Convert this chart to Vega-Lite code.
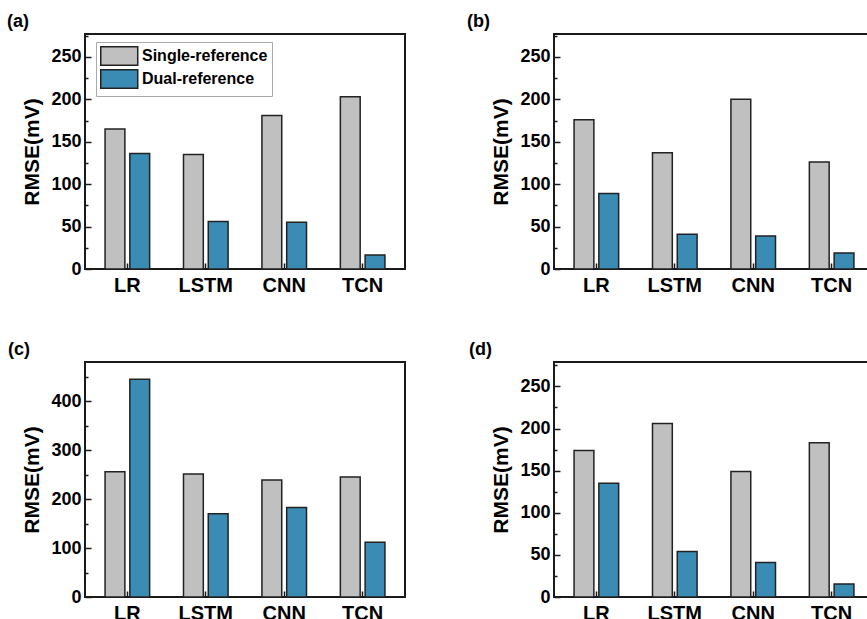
{
  "$schema": "https://vega.github.io/schema/vega-lite/v6.json",
  "background": "white",
  "padding": {"left": 6, "top": 12, "right": 5, "bottom": 5},
  "data": {"values": [
    {"panel": "a", "model": "LR", "method": "Single-reference", "rmse": 165},
    {"panel": "a", "model": "LR", "method": "Dual-reference", "rmse": 136},
    {"panel": "a", "model": "LSTM", "method": "Single-reference", "rmse": 135},
    {"panel": "a", "model": "LSTM", "method": "Dual-reference", "rmse": 56},
    {"panel": "a", "model": "CNN", "method": "Single-reference", "rmse": 181},
    {"panel": "a", "model": "CNN", "method": "Dual-reference", "rmse": 55},
    {"panel": "a", "model": "TCN", "method": "Single-reference", "rmse": 203},
    {"panel": "a", "model": "TCN", "method": "Dual-reference", "rmse": 16.5},
    {"panel": "b", "model": "LR", "method": "Single-reference", "rmse": 176},
    {"panel": "b", "model": "LR", "method": "Dual-reference", "rmse": 89},
    {"panel": "b", "model": "LSTM", "method": "Single-reference", "rmse": 137},
    {"panel": "b", "model": "LSTM", "method": "Dual-reference", "rmse": 41},
    {"panel": "b", "model": "CNN", "method": "Single-reference", "rmse": 200},
    {"panel": "b", "model": "CNN", "method": "Dual-reference", "rmse": 39},
    {"panel": "b", "model": "TCN", "method": "Single-reference", "rmse": 126},
    {"panel": "b", "model": "TCN", "method": "Dual-reference", "rmse": 19},
    {"panel": "c", "model": "LR", "method": "Single-reference", "rmse": 256},
    {"panel": "c", "model": "LR", "method": "Dual-reference", "rmse": 445},
    {"panel": "c", "model": "LSTM", "method": "Single-reference", "rmse": 251},
    {"panel": "c", "model": "LSTM", "method": "Dual-reference", "rmse": 170},
    {"panel": "c", "model": "CNN", "method": "Single-reference", "rmse": 239},
    {"panel": "c", "model": "CNN", "method": "Dual-reference", "rmse": 183},
    {"panel": "c", "model": "TCN", "method": "Single-reference", "rmse": 245},
    {"panel": "c", "model": "TCN", "method": "Dual-reference", "rmse": 112},
    {"panel": "d", "model": "LR", "method": "Single-reference", "rmse": 174},
    {"panel": "d", "model": "LR", "method": "Dual-reference", "rmse": 135},
    {"panel": "d", "model": "LSTM", "method": "Single-reference", "rmse": 206},
    {"panel": "d", "model": "LSTM", "method": "Dual-reference", "rmse": 54},
    {"panel": "d", "model": "CNN", "method": "Single-reference", "rmse": 149},
    {"panel": "d", "model": "CNN", "method": "Dual-reference", "rmse": 41},
    {"panel": "d", "model": "TCN", "method": "Single-reference", "rmse": 183},
    {"panel": "d", "model": "TCN", "method": "Dual-reference", "rmse": 15.5}
  ]},
  "columns": 2,
  "spacing": {"row": 44, "column": 60},
  "concat": [
    {
      "width": 320, "height": 235,
      "title": {"text": "(a)", "dx": -78},
      "transform": [{"filter": "datum.panel === 'a'"}],
      "mark": {"type": "bar", "stroke": "#222", "strokeWidth": 1.5},
      "encoding": {
        "x": {"field": "model", "type": "nominal", "sort": ["LR", "LSTM", "CNN", "TCN"], "scale": {"paddingInner": 0.4, "paddingOuter": 0.24}},
        "xOffset": {"field": "method", "type": "nominal", "sort": ["Single-reference", "Dual-reference"], "scale": {"paddingInner": 0.2, "paddingOuter": 0.05}},
        "y": {"field": "rmse", "type": "quantitative", "scale": {"domain": [0, 277], "nice": false},
              "axis": {"title": "RMSE(mV)", "values": [0, 25, 50, 75, 100, 125, 150, 175, 200, 225, 250, 275], "labelExpr": "datum.value % 50 === 0 && datum.value < 270 ? datum.label : ''", "tickSize": {"condition": {"test": "datum.value % 50 === 0", "value": -6}, "value": -3}}},
        "color": {"field": "method", "type": "nominal", "scale": {"domain": ["Single-reference", "Dual-reference"], "range": ["#c0c0c0", "#3a8cb5"]}, "legend": {"legendX": 11, "legendY": 8}}
      }
    },
    {
      "width": 320, "height": 235,
      "title": {"text": "(b)", "dx": -87},
      "transform": [{"filter": "datum.panel === 'b'"}],
      "mark": {"type": "bar", "stroke": "#222", "strokeWidth": 1.5},
      "encoding": {
        "x": {"field": "model", "type": "nominal", "sort": ["LR", "LSTM", "CNN", "TCN"], "scale": {"paddingInner": 0.4, "paddingOuter": 0.24}},
        "xOffset": {"field": "method", "type": "nominal", "sort": ["Single-reference", "Dual-reference"], "scale": {"paddingInner": 0.2, "paddingOuter": 0.05}},
        "y": {"field": "rmse", "type": "quantitative", "scale": {"domain": [0, 277], "nice": false},
              "axis": {"title": "RMSE(mV)", "values": [0, 25, 50, 75, 100, 125, 150, 175, 200, 225, 250, 275], "labelExpr": "datum.value % 50 === 0 && datum.value < 270 ? datum.label : ''", "tickSize": {"condition": {"test": "datum.value % 50 === 0", "value": -6}, "value": -3}}},
        "color": {"field": "method", "type": "nominal", "scale": {"domain": ["Single-reference", "Dual-reference"], "range": ["#c0c0c0", "#3a8cb5"]}, "legend": {"legendX": 11, "legendY": 8}}
      }
    },
    {
      "width": 320, "height": 235,
      "title": {"text": "(c)", "dx": -77},
      "transform": [{"filter": "datum.panel === 'c'"}],
      "mark": {"type": "bar", "stroke": "#222", "strokeWidth": 1.5},
      "encoding": {
        "x": {"field": "model", "type": "nominal", "sort": ["LR", "LSTM", "CNN", "TCN"], "scale": {"paddingInner": 0.4, "paddingOuter": 0.24}},
        "xOffset": {"field": "method", "type": "nominal", "sort": ["Single-reference", "Dual-reference"], "scale": {"paddingInner": 0.2, "paddingOuter": 0.05}},
        "y": {"field": "rmse", "type": "quantitative", "scale": {"domain": [0, 480], "nice": false},
              "axis": {"title": "RMSE(mV)", "values": [0, 50, 100, 150, 200, 250, 300, 350, 400, 450], "labelExpr": "datum.value % 100 === 0 ? datum.label : ''", "tickSize": {"condition": {"test": "datum.value % 100 === 0", "value": -6}, "value": -3}}},
        "color": {"field": "method", "type": "nominal", "scale": {"domain": ["Single-reference", "Dual-reference"], "range": ["#c0c0c0", "#3a8cb5"]}, "legend": {"legendX": 132, "legendY": 8}}
      }
    },
    {
      "width": 320, "height": 235,
      "title": {"text": "(d)", "dx": -85},
      "transform": [{"filter": "datum.panel === 'd'"}],
      "mark": {"type": "bar", "stroke": "#222", "strokeWidth": 1.5},
      "encoding": {
        "x": {"field": "model", "type": "nominal", "sort": ["LR", "LSTM", "CNN", "TCN"], "scale": {"paddingInner": 0.4, "paddingOuter": 0.24}},
        "xOffset": {"field": "method", "type": "nominal", "sort": ["Single-reference", "Dual-reference"], "scale": {"paddingInner": 0.2, "paddingOuter": 0.05}},
        "y": {"field": "rmse", "type": "quantitative", "scale": {"domain": [0, 279], "nice": false},
              "axis": {"title": "RMSE(mV)", "values": [0, 25, 50, 75, 100, 125, 150, 175, 200, 225, 250, 275], "labelExpr": "datum.value % 50 === 0 && datum.value < 270 ? datum.label : ''", "tickSize": {"condition": {"test": "datum.value % 50 === 0", "value": -6}, "value": -3}}},
        "color": {"field": "method", "type": "nominal", "scale": {"domain": ["Single-reference", "Dual-reference"], "range": ["#c0c0c0", "#3a8cb5"]}, "legend": {"legendX": 133, "legendY": 8}}
      }
    }
  ],
  "config": {
    "font": "Liberation Sans",
    "view": {"stroke": "#1a1a1a", "strokeWidth": 2},
    "axis": {"grid": false, "domain": false, "labelFontWeight": "bold", "labelColor": "#000", "titleColor": "#000", "tickColor": "#1a1a1a", "tickWidth": 1.5},
    "axisX": {"labelFontSize": 20, "labelAngle": 0, "title": null, "tickSize": -6, "labelPadding": 12},
    "axisY": {"labelFontSize": 18, "titleFontSize": 21, "titleFontWeight": "bold", "labelPadding": 10, "titlePadding": 8},
    "legend": {"orient": "none", "title": null, "labelFontSize": 16, "labelFontWeight": "bold", "labelColor": "#000", "labelLimit": 0, "symbolType": "M-1,-1H3V1H-1Z", "symbolSize": 342, "symbolStrokeColor": "#222", "symbolStrokeWidth": 1.5, "symbolOpacity": 1, "strokeColor": "#aaa", "fillColor": "white", "padding": 4, "rowPadding": -7, "labelOffset": 22},
    "title": {"fontSize": 18, "fontWeight": "bold", "anchor": "start", "frame": "group", "offset": 3, "color": "#000"}
  }
}
